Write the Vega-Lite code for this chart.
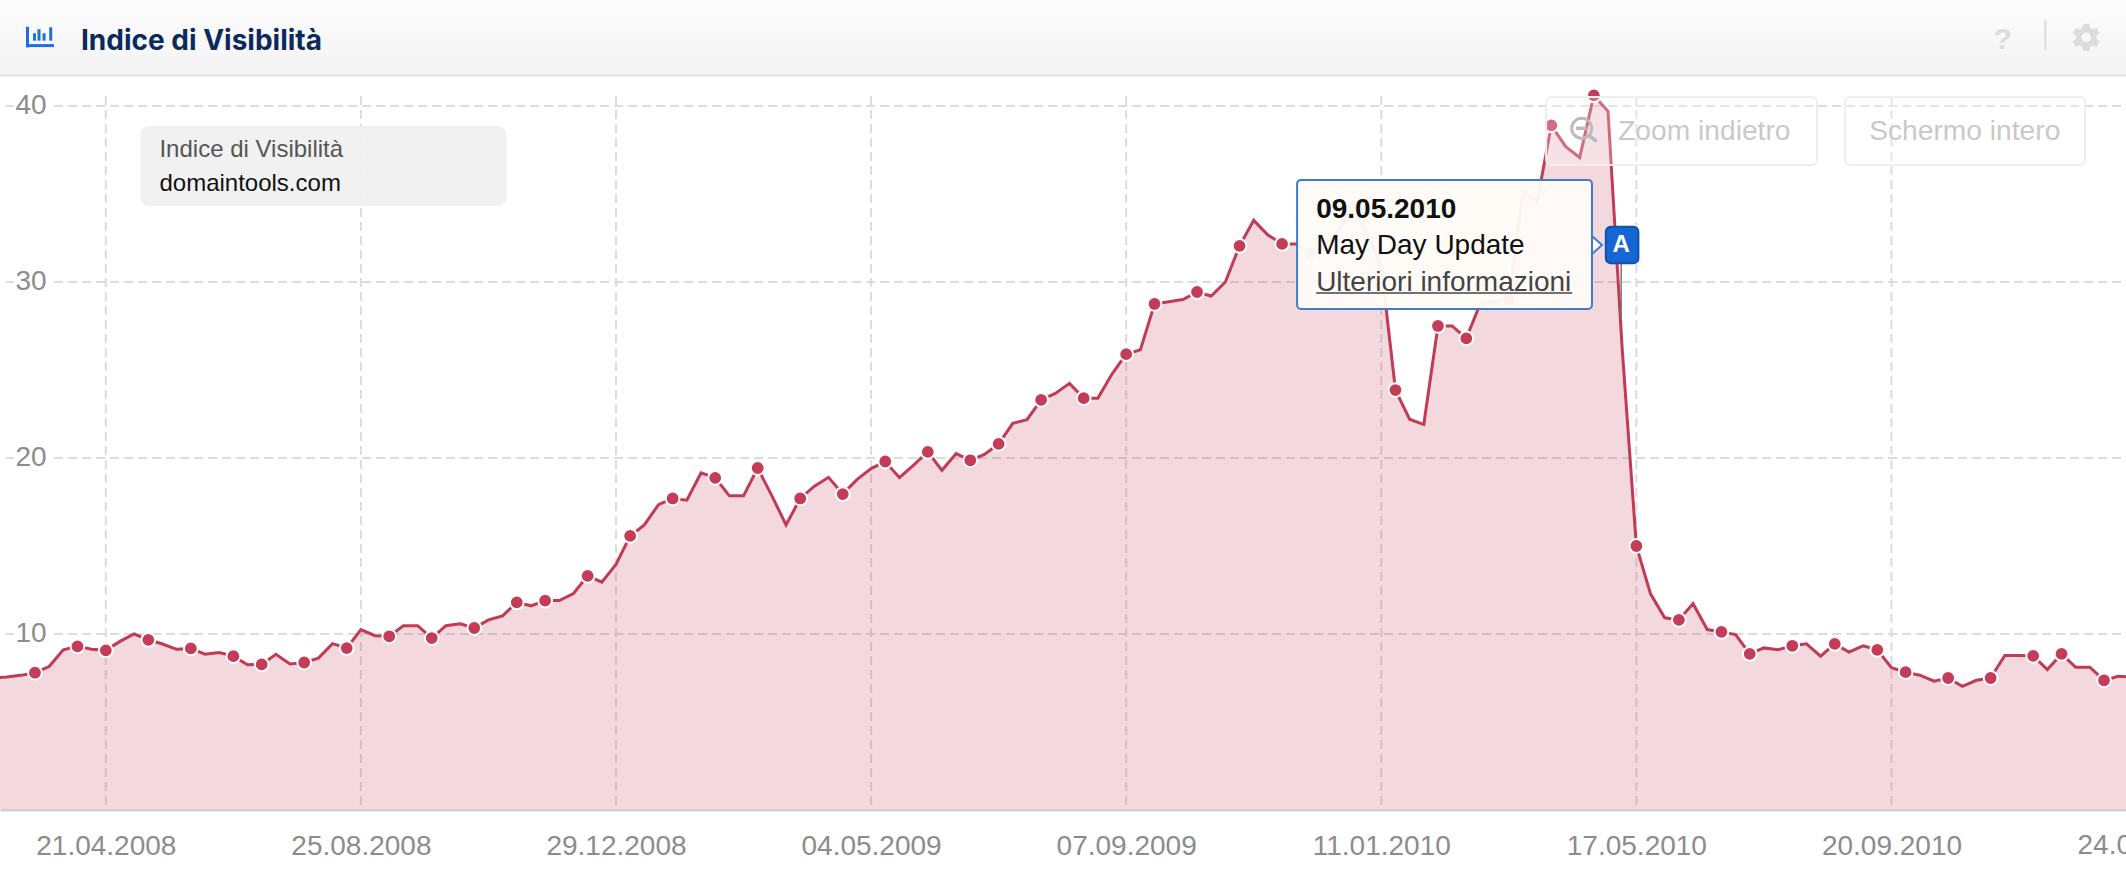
{"$schema":"https://vega.github.io/schema/vega-lite/v6.json","width":2126,"height":810,"autosize":"none","padding":{"left":0,"top":0,"right":0,"bottom":66},"background":"white",
"config":{"view":{"stroke":null},"font":"Liberation Sans"},
"datasets":{"series":[
{"date":"2008-02-25","value":7.5,"marked":false},{"date":"2008-03-03","value":7.55,"marked":false},{"date":"2008-03-10","value":7.65,"marked":false},{"date":"2008-03-17","value":7.8,"marked":true},{"date":"2008-03-24","value":8.15,"marked":false},{"date":"2008-03-31","value":9.1,"marked":false},{"date":"2008-04-07","value":9.3,"marked":true},{"date":"2008-04-14","value":9.13,"marked":false},{"date":"2008-04-21","value":9.07,"marked":true},{"date":"2008-04-28","value":9.58,"marked":false},{"date":"2008-05-05","value":10.0,"marked":false},{"date":"2008-05-12","value":9.67,"marked":true},{"date":"2008-05-19","value":9.43,"marked":false},{"date":"2008-05-26","value":9.13,"marked":false},{"date":"2008-06-02","value":9.18,"marked":true},{"date":"2008-06-09","value":8.85,"marked":false},{"date":"2008-06-16","value":8.95,"marked":false},{"date":"2008-06-23","value":8.74,"marked":true},{"date":"2008-06-30","value":8.25,"marked":false},{"date":"2008-07-07","value":8.27,"marked":true},{"date":"2008-07-14","value":8.85,"marked":false},{"date":"2008-07-21","value":8.3,"marked":false},{"date":"2008-07-28","value":8.38,"marked":true},{"date":"2008-08-04","value":8.63,"marked":false},{"date":"2008-08-11","value":9.45,"marked":false},{"date":"2008-08-18","value":9.2,"marked":true},{"date":"2008-08-25","value":10.25,"marked":false},{"date":"2008-09-01","value":9.9,"marked":false},{"date":"2008-09-08","value":9.87,"marked":true},{"date":"2008-09-15","value":10.47,"marked":false},{"date":"2008-09-22","value":10.47,"marked":false},{"date":"2008-09-29","value":9.77,"marked":true},{"date":"2008-10-06","value":10.47,"marked":false},{"date":"2008-10-13","value":10.58,"marked":false},{"date":"2008-10-20","value":10.34,"marked":true},{"date":"2008-10-27","value":10.8,"marked":false},{"date":"2008-11-03","value":11.03,"marked":false},{"date":"2008-11-10","value":11.8,"marked":true},{"date":"2008-11-17","value":11.6,"marked":false},{"date":"2008-11-24","value":11.9,"marked":true},{"date":"2008-12-01","value":11.9,"marked":false},{"date":"2008-12-08","value":12.3,"marked":false},{"date":"2008-12-15","value":13.3,"marked":true},{"date":"2008-12-22","value":12.95,"marked":false},{"date":"2008-12-29","value":13.95,"marked":false},
{"date":"2009-01-05","value":15.57,"marked":true},{"date":"2009-01-12","value":16.2,"marked":false},{"date":"2009-01-19","value":17.35,"marked":false},{"date":"2009-01-26","value":17.7,"marked":true},{"date":"2009-02-02","value":17.6,"marked":false},{"date":"2009-02-09","value":19.15,"marked":false},{"date":"2009-02-16","value":18.87,"marked":true},{"date":"2009-02-23","value":17.85,"marked":false},{"date":"2009-03-02","value":17.85,"marked":false},{"date":"2009-03-09","value":19.43,"marked":true},{"date":"2009-03-16","value":17.85,"marked":false},{"date":"2009-03-23","value":16.2,"marked":false},{"date":"2009-03-30","value":17.7,"marked":true},{"date":"2009-04-06","value":18.4,"marked":false},{"date":"2009-04-13","value":18.9,"marked":false},{"date":"2009-04-20","value":17.95,"marked":true},{"date":"2009-04-27","value":18.77,"marked":false},{"date":"2009-05-04","value":19.4,"marked":false},{"date":"2009-05-11","value":19.8,"marked":true},{"date":"2009-05-18","value":18.88,"marked":false},{"date":"2009-05-25","value":19.6,"marked":false},{"date":"2009-06-01","value":20.35,"marked":true},{"date":"2009-06-08","value":19.3,"marked":false},{"date":"2009-06-15","value":20.25,"marked":false},{"date":"2009-06-22","value":19.87,"marked":true},{"date":"2009-06-29","value":20.2,"marked":false},{"date":"2009-07-06","value":20.8,"marked":true},{"date":"2009-07-13","value":21.97,"marked":false},{"date":"2009-07-20","value":22.18,"marked":false},{"date":"2009-07-27","value":23.3,"marked":true},{"date":"2009-08-03","value":23.67,"marked":false},{"date":"2009-08-10","value":24.24,"marked":false},{"date":"2009-08-17","value":23.4,"marked":true},{"date":"2009-08-24","value":23.4,"marked":false},{"date":"2009-08-31","value":24.77,"marked":false},{"date":"2009-09-07","value":25.9,"marked":true},{"date":"2009-09-14","value":26.14,"marked":false},{"date":"2009-09-21","value":28.75,"marked":true},{"date":"2009-09-28","value":28.88,"marked":false},{"date":"2009-10-05","value":29.0,"marked":false},{"date":"2009-10-12","value":29.43,"marked":true},{"date":"2009-10-19","value":29.2,"marked":false},{"date":"2009-10-26","value":30.0,"marked":false},{"date":"2009-11-02","value":32.05,"marked":true},{"date":"2009-11-09","value":33.5,"marked":false},{"date":"2009-11-16","value":32.67,"marked":false},{"date":"2009-11-23","value":32.16,"marked":true},{"date":"2009-11-30","value":32.16,"marked":false},{"date":"2009-12-07","value":31.6,"marked":true},{"date":"2009-12-14","value":32.1,"marked":false},{"date":"2009-12-21","value":32.95,"marked":false},{"date":"2009-12-28","value":34.28,"marked":true},
{"date":"2010-01-04","value":32.8,"marked":false},{"date":"2010-01-11","value":30.9,"marked":false},{"date":"2010-01-18","value":23.86,"marked":true},{"date":"2010-01-25","value":22.2,"marked":false},{"date":"2010-02-01","value":21.9,"marked":false},{"date":"2010-02-08","value":27.5,"marked":true},{"date":"2010-02-15","value":27.5,"marked":false},{"date":"2010-02-22","value":26.8,"marked":true},{"date":"2010-03-01","value":28.8,"marked":false},{"date":"2010-03-08","value":28.9,"marked":false},{"date":"2010-03-15","value":29.0,"marked":true},{"date":"2010-03-22","value":35.17,"marked":false},{"date":"2010-03-29","value":34.56,"marked":false},{"date":"2010-04-05","value":38.9,"marked":true},{"date":"2010-04-12","value":37.7,"marked":false},{"date":"2010-04-19","value":37.07,"marked":false},{"date":"2010-04-26","value":40.6,"marked":true},{"date":"2010-05-03","value":39.7,"marked":false},{"date":"2010-05-10","value":26.2,"marked":false},{"date":"2010-05-17","value":15.0,"marked":true},{"date":"2010-05-24","value":12.28,"marked":false},{"date":"2010-05-31","value":10.92,"marked":false},{"date":"2010-06-07","value":10.8,"marked":true},{"date":"2010-06-14","value":11.73,"marked":false},{"date":"2010-06-21","value":10.25,"marked":false},{"date":"2010-06-28","value":10.12,"marked":true},{"date":"2010-07-05","value":9.97,"marked":false},{"date":"2010-07-12","value":8.87,"marked":true},{"date":"2010-07-19","value":9.21,"marked":false},{"date":"2010-07-26","value":9.1,"marked":false},{"date":"2010-08-02","value":9.33,"marked":true},{"date":"2010-08-09","value":9.44,"marked":false},{"date":"2010-08-16","value":8.74,"marked":false},{"date":"2010-08-23","value":9.44,"marked":true},{"date":"2010-08-30","value":8.97,"marked":false},{"date":"2010-09-06","value":9.33,"marked":false},{"date":"2010-09-13","value":9.1,"marked":true},{"date":"2010-09-20","value":8.08,"marked":false},{"date":"2010-09-27","value":7.83,"marked":true},{"date":"2010-10-04","value":7.66,"marked":false},{"date":"2010-10-11","value":7.32,"marked":false},{"date":"2010-10-18","value":7.5,"marked":true},{"date":"2010-10-25","value":7.03,"marked":false},{"date":"2010-11-01","value":7.37,"marked":false},{"date":"2010-11-08","value":7.5,"marked":true},{"date":"2010-11-15","value":8.78,"marked":false},{"date":"2010-11-22","value":8.78,"marked":false},{"date":"2010-11-29","value":8.76,"marked":true},{"date":"2010-12-06","value":7.98,"marked":false},{"date":"2010-12-13","value":8.87,"marked":true},{"date":"2010-12-20","value":8.11,"marked":false},{"date":"2010-12-27","value":8.11,"marked":false},{"date":"2011-01-03","value":7.37,"marked":true},{"date":"2011-01-10","value":7.6,"marked":false},{"date":"2011-01-17","value":7.55,"marked":false}
]},
"encoding":{
"x":{"field":"date","type":"temporal","title":null,"scale":{"type":"utc","domain":[{"year":2008,"month":2,"date":28,"hours":17,"minutes":46,"utc":true},{"year":2011,"month":1,"date":13,"hours":20,"minutes":24,"utc":true}]},
"axis":{"values":[{"year":2008,"month":4,"date":21,"utc":true},{"year":2008,"month":8,"date":25,"utc":true},{"year":2008,"month":12,"date":29,"utc":true},{"year":2009,"month":5,"date":4,"utc":true},{"year":2009,"month":9,"date":7,"utc":true},{"year":2010,"month":1,"date":11,"utc":true},{"year":2010,"month":5,"date":17,"utc":true},{"year":2010,"month":9,"date":20,"utc":true}],"labelExpr":"utcFormat(datum.value,'%d.%m.%Y')","grid":false,"ticks":false,"domainColor":"#cfcfcf","domainWidth":2,"labelFontSize":28,"labelColor":"#8c8c8c","labelFont":"Liberation Sans","labelPadding":22,"labelOverlap":false,"labelFlush":false,"labelBound":false,"labelAngle":0}},
"y":{"field":"value","type":"quantitative","title":null,"scale":{"domain":[0,46.02],"nice":false,"zero":false},
"axis":{"values":[10,20,30,40],"grid":false,"ticks":false,"domain":false,"labelAlign":"left","labelPadding":-15,"labelOffset":-0.5,"labelFontSize":28,"labelColor":"#8c8c8c","labelFont":"Liberation Sans"}}
},
"layer":[
{"data":{"values":[{"date":"2008-03-26T12:00:00Z","date2":"2011-02-01T00:00:00Z","value":10},{"date":"2008-03-26T12:00:00Z","date2":"2011-02-01T00:00:00Z","value":20},{"date":"2008-03-26T12:00:00Z","date2":"2011-02-01T00:00:00Z","value":30},{"date":"2008-03-26T12:00:00Z","date2":"2011-02-01T00:00:00Z","value":40},{"date":"2008-03-02T17:00:00Z","date2":"2008-03-06T17:00:00Z","value":10},{"date":"2008-03-02T17:00:00Z","date2":"2008-03-06T17:00:00Z","value":20},{"date":"2008-03-02T17:00:00Z","date2":"2008-03-06T17:00:00Z","value":30},{"date":"2008-03-02T17:00:00Z","date2":"2008-03-06T17:00:00Z","value":40}]},"mark":{"type":"rule","stroke":"#dcdcdc","strokeWidth":2,"strokeDash":[9,5]},"encoding":{"x2":{"field":"date2"}}},
{"data":{"values":[{"date":"2008-04-21","value":40.57,"value2":0},{"date":"2008-08-25","value":40.57,"value2":0},{"date":"2008-12-29","value":40.57,"value2":0},{"date":"2009-05-04","value":40.57,"value2":0},{"date":"2009-09-07","value":40.57,"value2":0},{"date":"2010-01-11","value":40.57,"value2":0},{"date":"2010-05-17","value":40.57,"value2":0},{"date":"2010-09-20","value":40.57,"value2":0}]},"mark":{"type":"rule","stroke":"#dcdcdc","strokeWidth":2,"strokeDash":[9,5]},"encoding":{"y2":{"field":"value2"}}},
{"data":{"name":"series"},"mark":{"type":"area","color":"#c43c58","opacity":0.2,"clip":true},"encoding":{}},
{"data":{"name":"series"},"mark":{"type":"line","color":"#c23b55","strokeWidth":3,"clip":true},"encoding":{}},
{"data":{"name":"series"},"transform":[{"filter":"datum.marked"}],"mark":{"type":"point","shape":"circle","filled":true,"fill":"#c43c58","stroke":"white","strokeWidth":2,"size":190,"opacity":1},"encoding":{}},
{"data":{"values":[{"date":"2011-01-24","value":-2.5,"label":"24.01.2011"}]},"mark":{"type":"text","align":"center","baseline":"alphabetic","fontSize":28,"color":"#8c8c8c"},"encoding":{"text":{"field":"label"}}},
{"data":{"values":[{"date":"2010-05-09T12:00:00Z","value":31.06,"value2":28}]},"mark":{"type":"rule","stroke":"#777777","strokeWidth":1.5},"encoding":{"y2":{"field":"value2"}}},
{"data":{"values":[{"date":"2008-05-08","date2":"2008-11-05","value":38.86,"value2":34.32}]},"mark":{"type":"rect","fill":"#f0f0f0","opacity":0.93,"cornerRadius":9},"encoding":{"x2":{"field":"date2"},"y2":{"field":"value2"}}},
{"data":{"values":[{"date":"2008-05-17T12:00:00Z","value":37.1,"label":"Indice di Visibilità"}]},"mark":{"type":"text","align":"left","baseline":"alphabetic","fontSize":24,"color":"#555555"},"encoding":{"text":{"field":"label"}}},
{"data":{"values":[{"date":"2008-05-17T12:00:00Z","value":35.19,"label":"domaintools.com"}]},"mark":{"type":"text","align":"left","baseline":"alphabetic","fontSize":24,"color":"#111111"},"encoding":{"text":{"field":"label"}}},
{"data":{"values":[{"date":"2010-04-02T10:00:00Z","date2":"2010-08-14T05:00:00Z","value":40.51,"value2":36.65},{"date":"2010-08-28T02:00:00Z","date2":"2010-12-24T14:00:00Z","value":40.51,"value2":36.65}]},"mark":{"type":"rect","fill":"white","fillOpacity":0.25,"stroke":"#eeeeee","strokeWidth":2,"cornerRadius":5},"encoding":{"x2":{"field":"date2"},"y2":{"field":"value2"}}},
{"data":{"values":[{"date":"2010-05-08T00:00:00Z","value":38.08,"label":"Zoom indietro"},{"date":"2010-09-09T00:00:00Z","value":38.08,"label":"Schermo intero"}]},"mark":{"type":"text","align":"left","baseline":"alphabetic","fontSize":28.2,"color":"#c9c9c9"},"encoding":{"text":{"field":"label"}}},
{"data":{"values":[{"date":"2010-04-20","value":38.73}]},"mark":{"type":"point","shape":"circle","filled":false,"stroke":"#bbbbbb","strokeWidth":3,"size":400,"opacity":1},"encoding":{}},
{"data":{"values":[{"date":"2010-04-23T05:00:00Z","date2":"2010-04-27T10:00:00Z","value":38.35,"value2":37.97},{"date":"2010-04-17T05:00:00Z","date2":"2010-04-22T14:00:00Z","value":38.73,"value2":38.73}]},"mark":{"type":"rule","stroke":"#bbbbbb","strokeWidth":3.5},"encoding":{"x2":{"field":"date2"},"y2":{"field":"value2"}}},
{"data":{"values":[{"date":"2010-04-25T02:00:00Z","value":32.1}]},"mark":{"type":"point","shape":"M0,-.9L1,0L0,.9Z","filled":true,"fill":"#fffcf8","stroke":"#3f7cc9","strokeWidth":2,"size":400,"opacity":1},"encoding":{}},
{"data":{"values":[{"date":"2009-11-30T10:00:00Z","date2":"2010-04-25T02:00:00Z","value":35.8,"value2":28.47}]},"mark":{"type":"rect","fill":"#fffcf8","fillOpacity":0.95,"stroke":"#3f7cc9","strokeWidth":2,"cornerRadius":4},"encoding":{"x2":{"field":"date2"},"y2":{"field":"value2"}}},
{"data":{"values":[{"date":"2009-12-09T20:00:00Z","value":33.64,"label":"09.05.2010"}]},"mark":{"type":"text","align":"left","baseline":"alphabetic","fontSize":28,"fontWeight":"bold","color":"#111111"},"encoding":{"text":{"field":"label"}}},
{"data":{"values":[{"date":"2009-12-09T20:00:00Z","value":31.59,"label":"May Day Update"}]},"mark":{"type":"text","align":"left","baseline":"alphabetic","fontSize":28,"color":"#111111"},"encoding":{"text":{"field":"label"}}},
{"data":{"values":[{"date":"2009-12-09T20:00:00Z","value":29.49,"label":"Ulteriori informazioni"}]},"mark":{"type":"text","align":"left","baseline":"alphabetic","fontSize":28,"color":"#444444"},"encoding":{"text":{"field":"label"}}},
{"data":{"values":[{"date":"2009-12-09T20:00:00Z","date2":"2010-04-15T07:00:00Z","value":29.38}]},"mark":{"type":"rule","stroke":"#444444","strokeWidth":1.5},"encoding":{"x2":{"field":"date2"}}},
{"data":{"values":[{"date":"2010-05-01T22:00:00Z","date2":"2010-05-18T00:00:00Z","value":33.14,"value2":31.06}]},"mark":{"type":"rect","fill":"#1565d2","stroke":"#0f52a8","strokeWidth":2,"cornerRadius":5},"encoding":{"x2":{"field":"date2"},"y2":{"field":"value2"}}},
{"data":{"values":[{"date":"2010-05-09T12:00:00Z","value":32.1,"label":"A"}]},"mark":{"type":"text","align":"center","baseline":"middle","fontSize":24,"fontWeight":"bold","color":"white"},"encoding":{"text":{"field":"label"}}},
{"data":{"values":[{"date":"2008-02-01","date2":"2011-02-15","value":47,"value2":41.76}]},"mark":{"type":"rect","color":{"gradient":"linear","x1":0,"y1":0,"x2":0,"y2":1,"stops":[{"offset":0,"color":"#ffffff"},{"offset":1,"color":"#f3f3f3"}]}},"encoding":{"x2":{"field":"date2"},"y2":{"field":"value2"}}},
{"data":{"values":[{"date":"2008-02-01","date2":"2011-02-15","value":41.73}]},"mark":{"type":"rule","stroke":"#e2e2e2","strokeWidth":2},"encoding":{"x2":{"field":"date2"}}},
{"data":{"values":[{"date":"2008-04-08T18:00:00Z","value":43.18,"label":"Indice di Visibilità"}]},"mark":{"type":"text","align":"left","baseline":"alphabetic","font":"Inter","fontSize":28,"fontWeight":700,"color":"#0a2a5e"},"encoding":{"text":{"field":"label"}}},
{"data":{"values":[{"date":"2008-03-13T08:00:00Z","date2":"2008-03-13T08:00:00Z","value":44.5,"value2":43.33},{"date":"2008-03-12T14:00:00Z","date2":"2008-03-26T10:00:00Z","value":43.43,"value2":43.43},{"date":"2008-03-16T19:00:00Z","date2":"2008-03-16T19:00:00Z","value":44.13,"value2":43.71},{"date":"2008-03-19T00:00:00Z","date2":"2008-03-19T00:00:00Z","value":44.36,"value2":43.71},{"date":"2008-03-21T12:00:00Z","date2":"2008-03-21T12:00:00Z","value":44.13,"value2":43.71},{"date":"2008-03-24T19:00:00Z","date2":"2008-03-24T19:00:00Z","value":44.47,"value2":43.71}]},"mark":{"type":"rule","stroke":"#1a73dd","strokeWidth":3},"encoding":{"x2":{"field":"date2"},"y2":{"field":"value2"}}},
{"data":{"values":[{"date":"2010-11-13T22:00:00Z","value":43.24,"label":"?"}]},"mark":{"type":"text","align":"center","baseline":"alphabetic","fontSize":30,"fontWeight":"bold","color":"#dddddd"},"encoding":{"text":{"field":"label"}}},
{"data":{"values":[{"date":"2010-12-05","value":44.89,"value2":43.18}]},"mark":{"type":"rule","stroke":"#dddddd","strokeWidth":2},"encoding":{"y2":{"field":"value2"}}},
{"data":{"values":[{"date":"2010-12-25T05:00:00Z","value":43.9}]},"mark":{"type":"point","shape":"M-.277,-.686L-.225,-.974L.225,-.974L.277,-.686L.456,-.583L.731,-.682L.956,-.292L.733,-.103L.733,.103L.956,.292L.731,.682L.456,.583L.277,.686L.225,.974L-.225,.974L-.277,.686L-.456,.583L-.731,.682L-.956,.292L-.733,.103L-.733,-.103L-.956,-.292L-.731,-.682L-.456,-.583Z","filled":true,"fill":"#dddddd","stroke":null,"size":784,"opacity":1},"encoding":{}},
{"data":{"values":[{"date":"2010-12-25T05:00:00Z","value":43.9}]},"mark":{"type":"point","shape":"circle","filled":true,"fill":"#f8f8f8","size":90,"opacity":1},"encoding":{}}
]}
